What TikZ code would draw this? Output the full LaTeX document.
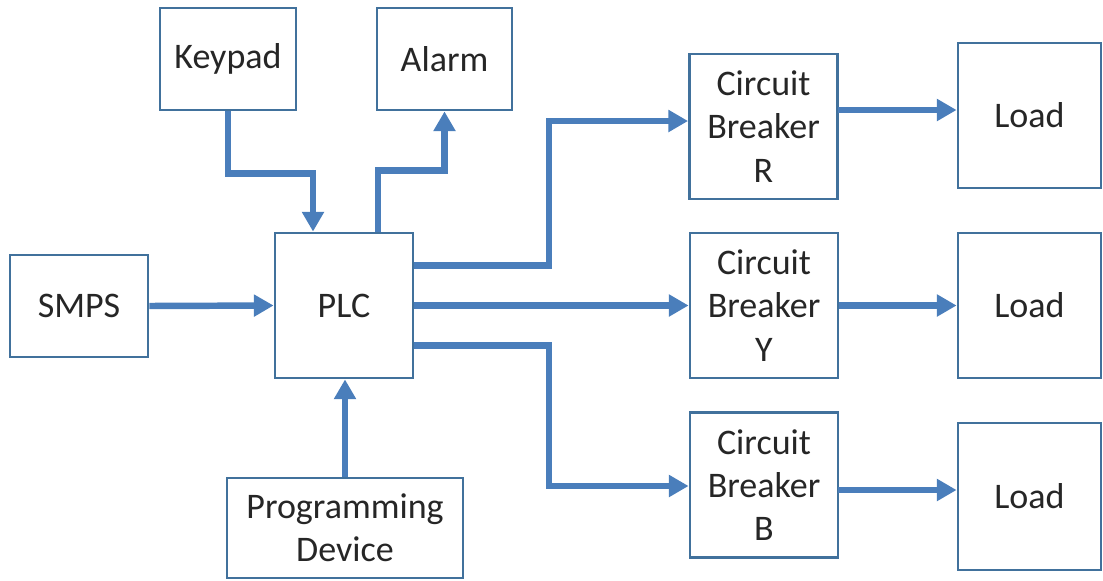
\documentclass[tikz,border=0pt]{standalone}
\usepackage{fontspec}
\setmainfont{Carlito}
\usetikzlibrary{arrows.meta,calc,positioning}

\definecolor{boxblue}{RGB}{65,113,156}
\definecolor{flowblue}{RGB}{74,126,187}

\tikzset{
    block/.style={draw=boxblue, line width=2pt, fill=white, align=center, inner sep=0pt,
        text=black!85, font=\fontsize{25.6}{30.7}\selectfont},
    flow/.style={draw=flowblue, line width=4.6pt, -{Triangle[length=14pt,width=15pt]}}
}

\begin{document}
\begin{tikzpicture}[x=0.025cm, y=-0.025cm]
                        \useasboundingbox (0,0) rectangle (1103,580);
                        \node[block, minimum width=3.4cm, minimum height=2.55cm] (keypad) at (228,59) {Keypad};
                        \node[block, minimum width=3.375cm, minimum height=2.55cm] (alarm) at (444.5,59) {Alarm};
                        \node[block, minimum width=3.45cm, minimum height=2.55cm] (smps) at (79,306) {SMPS};
                        \node[block, minimum width=3.45cm, minimum height=3.625cm] (plc) at (344,305.5) {PLC};
                        \node[block, minimum width=5.9cm, minimum height=2.5cm] (prog) at (345,528) {Programming\\Device};
                        \node[block, minimum width=3.7cm, minimum height=3.625cm] (cbr) at (763.5,126.5) {Circuit\\Breaker\\R};
                        \node[block, minimum width=3.7cm, minimum height=3.625cm] (cby) at (764,305.5) {Circuit\\Breaker\\Y};
                        \node[block, minimum width=3.7cm, minimum height=3.625cm] (cbb) at (764,485) {Circuit\\Breaker\\B};
                        \node[block, minimum width=3.575cm, minimum height=3.625cm] (loadr) at (1029.5,115.5) {Load};
                        \node[block, minimum width=3.575cm, minimum height=3.625cm] (loady) at (1029.5,305.5) {Load};
                        \node[block, minimum width=3.575cm, minimum height=3.675cm] (loadb) at (1029.5,496.5) {Load};
                        % turning points
                        \coordinate (rturn) at (549,121);
                        \coordinate (bturn) at (549,486);
                        \coordinate (rout) at (838,110);
                        \coordinate (bout) at (838,490);
                        \draw[flow] (keypad.south) -- ++(0,62) -| ($(plc.north)+(-31,0)$);
                        \draw[flow] ($(plc.north)+(34,0)$) -- ++(0,-61) -| (alarm.south);
                        \draw[flow] (smps.east) -- (plc.west);
                        \draw[flow] (prog.north) -- (prog.north |- plc.south);
                        \draw[flow] ($(plc.east)+(0,-40)$) -| (rturn) -- (rturn -| cbr.west);
                        \draw[flow] (plc.east) -- (cby.west);
                        \draw[flow] ($(plc.east)+(0,40)$) -| (bturn) -- (bturn -| cbb.west);
                        \draw[flow] (rout) -- (rout -| loadr.west);
                        \draw[flow] (cby.east) -- (loady.west);
                        \draw[flow] (bout) -- (bout -| loadb.west);
                    \end{tikzpicture}
\end{document}
